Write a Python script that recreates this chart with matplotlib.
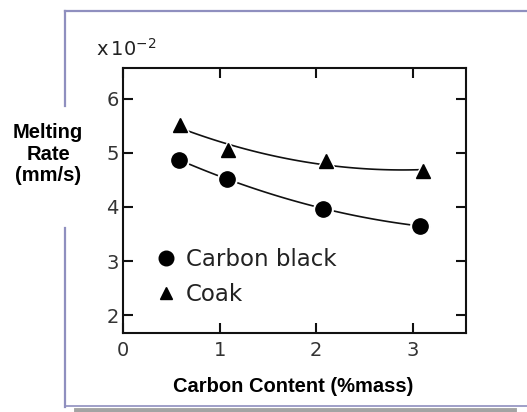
import numpy as np
import matplotlib
matplotlib.use("Agg")
import matplotlib.pyplot as plt
from matplotlib.lines import Line2D

# data (melting rate in units of 1e-2 mm/s)
carbon_black_x = [0.58, 1.08, 2.07, 3.07]
carbon_black_y = [4.87, 4.52, 3.97, 3.65]
coak_x = [0.59, 1.09, 2.10, 3.11]
coak_y = [5.52, 5.05, 4.85, 4.67]

x_ticks = [0, 1, 2, 3]
y_ticks = [2, 3, 4, 5, 6]

W, H = 527, 412
fig = plt.figure(figsize=(W / 100, H / 100), dpi=100)
fig.patch.set_facecolor("white")

# slide frame around the scanned figure
frame = "#8f8fbf"
def fx(px):
    return px / W
def fy(py):
    return 1 - py / H
fig.add_artist(Line2D([fx(65), fx(527)], [fy(11), fy(11)], color=frame, lw=1.6))
fig.add_artist(Line2D([fx(65), fx(65)], [fy(11), fy(106)], color=frame, lw=1.6))
fig.add_artist(Line2D([fx(65), fx(65)], [fy(228), fy(407)], color=frame, lw=1.6))
fig.add_artist(Line2D([fx(65), fx(527)], [fy(406), fy(406)], color=frame, lw=1.2))
fig.add_artist(Line2D([fx(76), fx(514)], [fy(409.5), fy(409.5)], color="#a3a3a3", lw=3.5))

ax = fig.add_axes([fx(123), fy(333), (466 - 123) / W, (333 - 68) / H])
ax.set_xlim(0, 3.55)
ax.set_ylim(1.67, 6.57)

for s in ax.spines.values():
    s.set_linewidth(1.5)
    s.set_color("#111111")

ax.set_xticks(x_ticks)
ax.set_yticks(y_ticks)
ax.tick_params(direction="in", length=7, width=1.5, top=True, right=True,
               labelsize=14, colors="#111111")
ax.tick_params(axis="x", pad=6)
ax.tick_params(axis="y", pad=3)
for lab in ax.get_xticklabels() + ax.get_yticklabels():
    lab.set_color("#333333")

# hand-drawn style trend curves through each series
for xs, ys, end in [(carbon_black_x, carbon_black_y, 0.1), (coak_x, coak_y, 0.0)]:
    coef = np.polyfit(xs, ys, 2)
    xx = np.linspace(xs[0], xs[-1] + end, 100)
    ax.plot(xx, np.polyval(coef, xx), color="#111111", lw=1.2, zorder=2)

# white halo behind markers so the curves stop short of them
ax.plot(carbon_black_x, carbon_black_y, "o", ms=14, color="white", zorder=3)
ax.plot(coak_x, coak_y, "^", ms=14, color="white", zorder=3)
ax.plot(carbon_black_x, carbon_black_y, "o", ms=11, color="black", zorder=4,
        label="Carbon black")
ax.plot(coak_x, coak_y, "^", ms=10.5, color="black", zorder=4, label="Coak")

handles = [Line2D([], [], marker="o", ls="none", ms=10.5, color="black"),
           Line2D([], [], marker="^", ls="none", ms=9, color="black")]
leg = ax.legend(handles, ["Carbon black", "Coak"], loc="upper left",
                bbox_to_anchor=(0.07, 0.355), frameon=False, fontsize=16.5,
                handlelength=0.9, handletextpad=0.4, labelspacing=0.5,
                borderaxespad=0)
for t in leg.get_texts():
    t.set_color("#222222")

ax.text(-0.08, 1.03, r"x$\,10^{-2}$", transform=ax.transAxes, fontsize=14,
        color="#222222", ha="left", va="bottom")

fig.text(fx(48), fy(154), "Melting\nRate\n(mm/s)", ha="center", va="center",
         fontsize=14.5, fontweight="bold", family="Liberation Sans",
         linespacing=1.15)
fig.text(fx(293), fy(387), "Carbon Content (%mass)", ha="center", va="center",
         fontsize=14.5, fontweight="bold", family="Liberation Sans")

fig.savefig("out.png", dpi=100)
